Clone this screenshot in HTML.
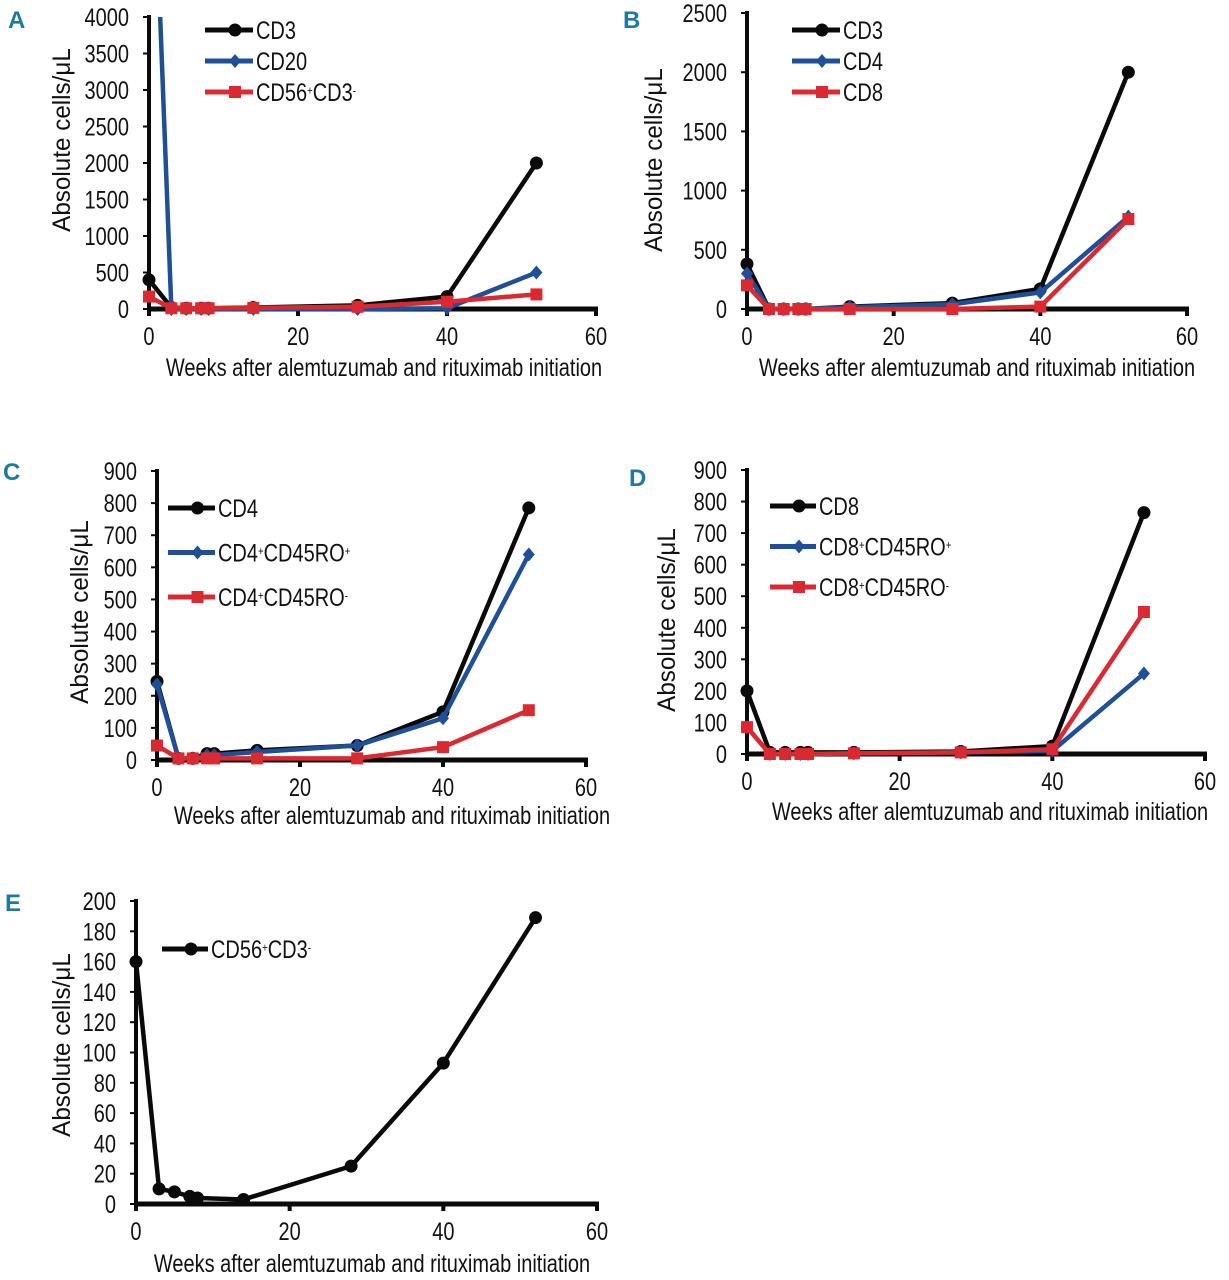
<!DOCTYPE html>
<html><head><meta charset="utf-8"><style>
html,body{margin:0;padding:0;background:#fff;}
svg{display:block;}
text{font-family:"Liberation Sans Narrow","Liberation Sans",sans-serif;fill:#111;}
</style></head><body>
<svg id="fig" width="1229" height="1280" viewBox="0 0 1229 1280" xmlns="http://www.w3.org/2000/svg"></svg>
<script>
// ---- data ----
const weeks = [0, 3, 5, 7, 8, 14, 28, 40, 52];
const aCD3 = [400, 20, 10, 10, 10, 20, 50, 170, 2000];
const aCD20 = [8000, 0, 0, 0, 0, 0, 0, 10, 500];
const aCD56 = [170, 10, 10, 10, 10, 15, 30, 100, 200];
const bCD3 = [380, 0, 0, 0, 0, 20, 50, 170, 2000];
const bCD4 = [300, 0, 0, 0, 0, 15, 40, 140, 780];
const bCD8 = [200, 0, 0, 0, 0, 0, 0, 20, 760];
const cCD4 = [245, 5, 5, 20, 20, 30, 45, 150, 785];
const cRoPos = [235, 5, 5, 15, 15, 25, 45, 130, 640];
const cRoNeg = [45, 5, 5, 5, 5, 5, 5, 40, 155];
const dCD8 = [200, 5, 5, 5, 5, 5, 8, 25, 765];
const dRoPos = [85, 0, 0, 0, 0, 2, 5, 10, 255];
const dRoNeg = [85, 0, 0, 0, 0, 2, 5, 15, 450];
const eCD56 = [160, 10, 8, 5, 4, 3, 25, 93, 189];
const xTicks = [0, 20, 40, 60];
const ticksA = [0, 500, 1000, 1500, 2000, 2500, 3000, 3500, 4000];
const ticksB = [0, 500, 1000, 1500, 2000, 2500];
const ticks900 = [0, 100, 200, 300, 400, 500, 600, 700, 800, 900];
const ticksE = [0, 20, 40, 60, 80, 100, 120, 140, 160, 180, 200];

const NS = "http://www.w3.org/2000/svg";
const svg = document.getElementById('fig');
const BLACK = '#0a0a0a', BLUE = '#1f4f97', RED = '#d92a32';
const SX = 0.8, FS = 25;
function mk(tag, attrs, parent) {
  const e = document.createElementNS(NS, tag);
  for (const k in attrs) e.setAttribute(k, attrs[k]);
  (parent || svg).appendChild(e);
  return e;
}
function txt(x, y, str, anchor, parent, rot, html, sx) {
  const t = mk('text', {x: 0, y: 0, 'font-size': FS, 'text-anchor': anchor,
    transform: `translate(${x},${y})` + (rot ? ' rotate(-90)' : '') + ` scale(${sx || SX},1)`}, parent);
  if (html) t.innerHTML = str; else t.textContent = str;
  return t;
}
let clipId = 0;
function panel(p) {
  const g = mk('g', {});
  
  
  const xs = v => p.x0 + (v / 60) * (p.x1 - p.x0);
  const ys = v => p.y0 - (v / p.ymax) * (p.y0 - p.yTop);
  const L = mk('text', {x: p.lx, y: p.ly, 'font-size': 24, 'font-weight': 'bold', style: 'fill:#1d7aa0'}, g);
  L.textContent = p.letter;
  
  
  p.yt.forEach(t => {
    const tx = txt(p.x0 - 20, ys(t) + 9, String(t), 'end', g);
    
    
    mk('line', {x1: p.x0 - 6, x2: p.x0, y1: ys(t), y2: ys(t), stroke: BLACK, 'stroke-width': 2}, g);
  });
  xTicks.forEach(t => {
    const tx = txt(xs(t), p.y0 + 36, String(t), 'middle', g);
    
    
    mk('line', {x1: xs(t), x2: xs(t), y1: p.y0, y2: p.y0 + 7, stroke: BLACK, 'stroke-width': 4}, g);
  });
  const ya = mk('line', {x1: p.x0, x2: p.x0, y1: p.yTop - 2, y2: p.y0 + 6, stroke: BLACK, 'stroke-width': 4}, g);
  
  
  const xa = mk('line', {x1: p.x0 - 2, x2: p.x1 + 2, y1: p.y0, y2: p.y0, stroke: BLACK, 'stroke-width': 5}, g);
  
  
  const yt = txt(p.ytx, p.yty, 'Absolute cells/\u03bcL', 'middle', g, true, false, 0.97);
  
  
  const xt = txt(p.xtx, p.xty, 'Weeks after alemtuzumab and rituximab initiation', 'middle', g);
  
  
  const cid = 'clip' + (clipId++);
  const cp = mk('clipPath', {id: cid}, g);
  mk('rect', {x: p.x0 - 20, y: p.yTop, width: p.x1 - p.x0 + 40, height: p.y0 - p.yTop + 30}, cp);
  p.series.forEach((s, si) => {
    const sg = mk('g', {'clip-path': 'url(#' + cid + ')'}, g);
    
    
    const pts = s.v.map((v, i) => xs(weeks[i]) + ',' + ys(v)).join(' ');
    const pl = mk('polyline', {points: pts, fill: 'none', stroke: s.c, 'stroke-width': 4.5, 'stroke-linejoin': 'round'}, sg);
    
    
    s.v.forEach((v, i) => {
      const m = marker(s.m, xs(weeks[i]), ys(v), s.c, sg);
      
      
    });
    const ly = p.leg[1] + si * p.leg[3];
    const lg = mk('g', {}, g);
    
    
    mk('line', {x1: p.leg[0], x2: p.leg[0] + p.leg[2], y1: ly, y2: ly, stroke: s.c, 'stroke-width': 5}, lg);
    marker(s.m, p.leg[0] + p.leg[2] / 2 + 6, ly, s.c, lg);
    txt(p.leg[0] + p.leg[2] + 3, ly + 9, s.label, 'start', lg, false, true);
  });
}
function marker(type, x, y, c, parent) {
  if (type === 'c') return mk('circle', {cx: x, cy: y, r: 6.5, fill: c}, parent);
  if (type === 's') return mk('rect', {x: x - 6, y: y - 6, width: 12, height: 12, fill: c}, parent);
  return mk('polygon', {points: `${x},${y-7} ${x+6},${y} ${x},${y+7} ${x-6},${y}`, fill: c}, parent);
}
const sup = s => `<tspan baseline-shift="super" font-size="12">${s}</tspan>`;
panel({letter: 'A', lx: 8, ly: 28, x0: 149, x1: 596, y0: 309, yTop: 17, ymax: 4000, yt: ticksA,
  ytx: 70, yty: 140, xtx: 384, xty: 376, leg: [205, 30, 48, 31],
  series: [
    {key: 'cd3', label: 'CD3', v: aCD3, c: BLACK, m: 'c'},
    {key: 'cd20', label: 'CD20', v: aCD20, c: BLUE, m: 'd'},
    {key: 'cd56', label: 'CD56' + sup('+') + 'CD3' + sup('-'), v: aCD56, c: RED, m: 's'}]});
panel({letter: 'B', lx: 623, ly: 28, x0: 747, x1: 1187, y0: 309, yTop: 13, ymax: 2500, yt: ticksB,
  ytx: 662, yty: 160, xtx: 977, xty: 376, leg: [792, 30, 48, 31],
  series: [
    {key: 'cd3', label: 'CD3', v: bCD3, c: BLACK, m: 'c'},
    {key: 'cd4', label: 'CD4', v: bCD4, c: BLUE, m: 'd'},
    {key: 'cd8', label: 'CD8', v: bCD8, c: RED, m: 's'}]});
panel({letter: 'C', lx: 3, ly: 480, x0: 157, x1: 586, y0: 760, yTop: 471, ymax: 900, yt: ticks900,
  ytx: 88, yty: 612, xtx: 392, xty: 824, leg: [168, 508, 47, 44.5],
  series: [
    {key: 'cd4', label: 'CD4', v: cCD4, c: BLACK, m: 'c'},
    {key: 'cd4-ro-pos', label: 'CD4' + sup('+') + 'CD45RO' + sup('+'), v: cRoPos, c: BLUE, m: 'd'},
    {key: 'cd4-ro-neg', label: 'CD4' + sup('+') + 'CD45RO' + sup('-'), v: cRoNeg, c: RED, m: 's'}]});
panel({letter: 'D', lx: 629, ly: 486, x0: 747, x1: 1205, y0: 754, yTop: 470, ymax: 900, yt: ticks900,
  ytx: 675, yty: 620, xtx: 990, xty: 820, leg: [770, 506, 46, 40.5],
  series: [
    {key: 'cd8', label: 'CD8', v: dCD8, c: BLACK, m: 'c'},
    {key: 'cd8-ro-pos', label: 'CD8' + sup('+') + 'CD45RO' + sup('+'), v: dRoPos, c: BLUE, m: 'd'},
    {key: 'cd8-ro-neg', label: 'CD8' + sup('+') + 'CD45RO' + sup('-'), v: dRoNeg, c: RED, m: 's'}]});
panel({letter: 'E', lx: 5, ly: 911, x0: 136, x1: 597, y0: 1204, yTop: 901, ymax: 200, yt: ticksE,
  ytx: 70, yty: 1045, xtx: 372, xty: 1272, leg: [162, 949, 46, 40],
  series: [
    {key: 'cd56', label: 'CD56' + sup('+') + 'CD3' + sup('-'), v: eCD56, c: BLACK, m: 'c'}]});
</script>
</body></html>
